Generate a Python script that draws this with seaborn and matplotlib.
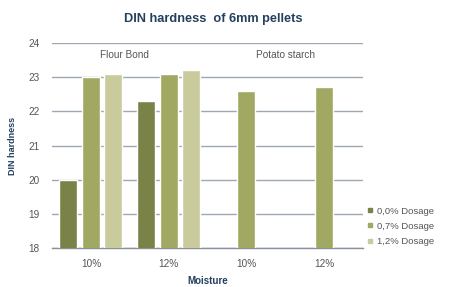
import matplotlib
matplotlib.use("Agg")
import matplotlib.pyplot as plt
from matplotlib.lines import Line2D
import numpy as np
import pandas as pd
import seaborn as sns

groups = ["Flour Bond", "Flour Bond", "Potato starch", "Potato starch"]
moisture = ["10%", "12%", "10%", "12%"]
dosages = ["0,0% Dosage", "0,7% Dosage", "1,2% Dosage"]
dose_00 = [20.0, 22.3, np.nan, np.nan]
dose_07 = [23.0, 23.1, 22.6, 22.7]
dose_12 = [23.1, 23.2, np.nan, np.nan]
colors = ["#7b8247", "#a1a862", "#c9cb9d"]

keys = [g + " " + m for g, m in zip(groups, moisture)]
rows = []
for dose, vals in zip(dosages, [dose_00, dose_07, dose_12]):
    for k, v in zip(keys, vals):
        rows.append({"key": k, "dosage": dose, "value": v})
df = pd.DataFrame(rows)

sns.set_theme(style="white")
plt.rcParams["font.family"] = ["Liberation Sans", "DejaVu Sans"]
navy = "#23405f"
grey = "#555555"

fig = plt.figure(figsize=(4.49, 2.87), dpi=100)
ax = fig.add_axes([0.116, 0.136, 0.692, 0.714])

sns.barplot(data=df, x="key", y="value", hue="dosage", order=keys,
            hue_order=dosages, palette=colors, width=0.87, gap=0.2,
            saturation=1, errorbar=None, legend=False, ax=ax, zorder=3)

ax.set_ylim(18, 24)
ax.set_xlim(-0.5, 3.5)
ax.set_yticks(range(18, 25))
ax.yaxis.grid(True, color="#9ea8b2", linewidth=1.0, zorder=0)
ax.set_axisbelow(True)
for s in ["top", "right", "left"]:
    ax.spines[s].set_visible(False)
ax.spines["bottom"].set_color("#8a939c")
ax.spines["bottom"].set_linewidth(1.0)

ax.set_xticks(range(4))
ax.set_xticklabels(moisture)
ax.set_xticks([-0.5, 0.5, 1.5, 2.5, 3.5], minor=True)
ax.tick_params(axis="x", which="major", length=0, labelsize=7.2, colors=grey, pad=8)
ax.tick_params(axis="x", which="minor", length=3, color="#8a939c", direction="out")
ax.tick_params(axis="y", length=0, labelsize=7.2, colors=grey, pad=9)

ax.set_xlabel("Moisture", fontsize=7, fontweight="bold", color=navy, labelpad=5)
ax.set_ylabel("DIN hardness", fontsize=6.5, fontweight="bold", color=navy, labelpad=8)

ax.text(0.43, 23.65, "Flour Bond", ha="center", va="center", fontsize=7.2, color=grey)
ax.text(2.5, 23.65, "Potato starch", ha="center", va="center", fontsize=7.2, color=grey)

fig.suptitle("DIN hardness  of 6mm pellets", x=0.475, y=0.955, fontsize=9.2,
             fontweight="bold", color=navy)

handles = [Line2D([], [], marker="s", linestyle="", markersize=3.5,
                  markerfacecolor=c, markeredgecolor=c) for c in colors]
leg = fig.legend(handles, dosages, loc="lower left", bbox_to_anchor=(0.807, 0.13),
                 frameon=False, fontsize=6.8, labelspacing=0.65, handletextpad=0.3,
                 handlelength=0.8, borderaxespad=0)
for t in leg.get_texts():
    t.set_color(grey)

fig.savefig("out.png", dpi=100, facecolor="white")
